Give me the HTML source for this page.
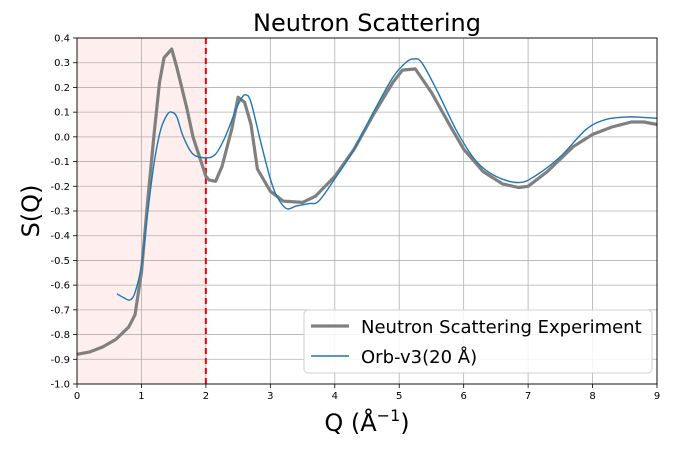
<!DOCTYPE html>
<html><head><meta charset="utf-8"><style>
body{margin:0;background:#fff;}
svg{font-family:"DejaVu Sans","Liberation Sans",sans-serif;}
</style></head><body>
<svg id="c" width="687" height="455"></svg>
<script>
const expQ=[0,0.2,0.4,0.6,0.8,0.9,1.0,1.1,1.2,1.28,1.35,1.47,1.55,1.7,1.8,2.0,2.05,2.15,2.25,2.4,2.5,2.6,2.7,2.8,3.0,3.2,3.5,3.7,4.0,4.3,4.6,4.9,5.05,5.25,5.5,5.8,6.0,6.3,6.6,6.85,7.0,7.3,7.7,8.0,8.3,8.6,8.8,9.0];
const expS=[-0.88,-0.87,-0.85,-0.82,-0.77,-0.72,-0.55,-0.25,0.02,0.22,0.32,0.355,0.28,0.12,0.0,-0.16,-0.175,-0.18,-0.12,0.03,0.16,0.14,0.05,-0.13,-0.22,-0.26,-0.265,-0.24,-0.16,-0.05,0.09,0.22,0.27,0.275,0.18,0.04,-0.05,-0.14,-0.19,-0.205,-0.2,-0.14,-0.04,0.01,0.04,0.06,0.06,0.05];
const orbQ=[0.62,0.72,0.82,0.9,1.0,1.1,1.2,1.3,1.4,1.47,1.55,1.65,1.8,2.0,2.15,2.3,2.45,2.55,2.62,2.7,2.85,3.0,3.1,3.25,3.4,3.6,3.75,4.0,4.3,4.6,4.9,5.1,5.22,5.35,5.6,5.9,6.2,6.5,6.85,7.1,7.5,7.9,8.2,8.5,8.7,9.0];
const orbS=[-0.635,-0.65,-0.66,-0.63,-0.52,-0.3,-0.1,0.03,0.09,0.10,0.08,0.0,-0.07,-0.085,-0.07,0.0,0.1,0.155,0.17,0.14,-0.02,-0.17,-0.24,-0.29,-0.28,-0.27,-0.26,-0.17,-0.05,0.1,0.24,0.3,0.315,0.3,0.18,0.02,-0.1,-0.16,-0.185,-0.16,-0.08,0.03,0.07,0.08,0.08,0.075];
const xTicks=[0,1,2,3,4,5,6,7,8,9];
const yTicks=[0.4,0.3,0.2,0.1,0.0,-0.1,-0.2,-0.3,-0.4,-0.5,-0.6,-0.7,-0.8,-0.9,-1.0];
const X0=77,X1=657,Y0=38,Y1=384;
const sx=q=>X0+(q-0)/9*(X1-X0);
const sy=v=>Y0+(0.4-v)/1.4*(Y1-Y0);
const svg=document.getElementById('c');const NS='http://www.w3.org/2000/svg';
function mk(t,a,p){const e=document.createElementNS(NS,t);for(const k in a)e.setAttribute(k,a[k]);(p||svg).appendChild(e);return e;}
let e;
e=mk('rect',{x:sx(0),y:Y0,width:sx(2)-sx(0),height:Y1-Y0,fill:'#ffeeee'});


xTicks.forEach(t=>{
 e=mk('line',{x1:sx(t),x2:sx(t),y1:Y0,y2:Y1,stroke:'#b0b0b0','stroke-width':0.8});
 
 
 mk('line',{x1:sx(t),x2:sx(t),y1:Y1,y2:Y1+4,stroke:'#000','stroke-width':0.8});
 e=mk('text',{x:sx(t),y:Y1+15,'font-size':10,'text-anchor':'middle'});e.textContent=t;
 
 
});
yTicks.forEach(t=>{
 e=mk('line',{x1:X0,x2:X1,y1:sy(t),y2:sy(t),stroke:'#b0b0b0','stroke-width':0.8});
 
 
 mk('line',{x1:X0-4,x2:X0,y1:sy(t),y2:sy(t),stroke:'#000','stroke-width':0.8});
 e=mk('text',{x:X0-7,y:sy(t)+3.5,'font-size':10,'text-anchor':'end'});e.textContent=t.toFixed(1);
 
 
});
e=mk('line',{x1:sx(2),x2:sx(2),y1:Y0,y2:Y1,stroke:'#ff0000','stroke-width':2,'stroke-dasharray':'6,4'});


function pts(qs,ss){return qs.map((q,i)=>sx(q).toFixed(1)+','+sy(ss[i]).toFixed(1)).join(' ');}
function smooth(qs,ss){const P=qs.map((q,i)=>[sx(q),sy(ss[i])]);let d='M'+P[0][0]+','+P[0][1];
 for(let i=0;i<P.length-1;i++){const p0=P[i-1]||P[i],p1=P[i],p2=P[i+1],p3=P[i+2]||P[i+1];
 const c1=[p1[0]+(p2[0]-p0[0])/6,p1[1]+(p2[1]-p0[1])/6],c2=[p2[0]-(p3[0]-p1[0])/6,p2[1]-(p3[1]-p1[1])/6];
 d+=' C'+c1.join(',')+' '+c2.join(',')+' '+p2.join(',');}return d;}
e=mk('polyline',{points:pts(expQ,expS),fill:'none',stroke:'#808080','stroke-width':3.2,'stroke-linejoin':'round'});


e=mk('path',{d:smooth(orbQ,orbS),fill:'none',stroke:'#1f77b4','stroke-width':1.4});


e=mk('rect',{x:X0,y:Y0,width:X1-X0,height:Y1-Y0,fill:'none',stroke:'#000','stroke-width':0.9});


e=mk('text',{x:367,y:31,'font-size':24,'text-anchor':'middle'});e.textContent='Neutron Scattering';


e=mk('text',{x:0,y:0,'font-size':24,'text-anchor':'middle',transform:'translate(39,211) rotate(-90)'});e.textContent='S(Q)';


e=mk('text',{x:367,y:431,'font-size':24,'text-anchor':'middle'});e.innerHTML='Q (Å<tspan dy="-10" font-size="16">−1</tspan><tspan dy="10">)</tspan>';


const lg=mk('g',{});


mk('rect',{x:304,y:310,width:348,height:63,rx:4,fill:'#fff','fill-opacity':0.85,stroke:'#d0d0d0'},lg);
mk('line',{x1:311,x2:349,y1:326,y2:326,stroke:'#808080','stroke-width':3.2},lg);
e=mk('text',{x:361,y:333,'font-size':18},lg);e.textContent='Neutron Scattering Experiment';


mk('line',{x1:311,x2:349,y1:356,y2:356,stroke:'#1f77b4','stroke-width':1.4},lg);
e=mk('text',{x:361,y:363,'font-size':18},lg);e.textContent='Orb-v3(20 Å)';


</script>
</body></html>
